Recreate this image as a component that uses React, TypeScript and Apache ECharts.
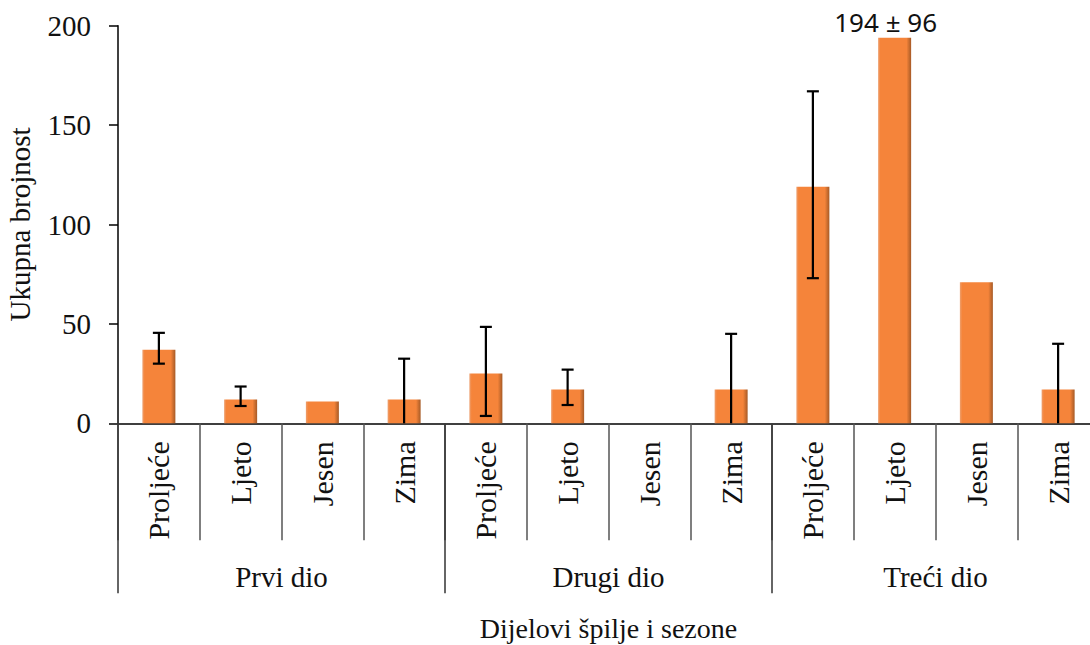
import React, { useEffect, useRef } from "react";
import * as echarts from "echarts";

const seasons = [
  "Proljeće", "Ljeto", "Jesen", "Zima",
  "Proljeće", "Ljeto", "Jesen", "Zima",
  "Proljeće", "Ljeto", "Jesen", "Zima",
];
const parts = ["Prvi dio", "Drugi dio", "Treći dio"];
const values = [37, 12, 11, 12, 25, 17, 0, 17, 119, 194, 71, 17];
const errHigh: (number | null)[] = [45.5, 18.5, null, 32.5, 48.5, 27, null, 45, 167, null, null, 40];
const errLow: (number | null)[] = [30, 8.7, null, 0, 3.7, 9.2, null, 0, 73, null, null, 0];
const peakLabel = "194 ± 96";
const yTicks = { min: 0, max: 200, interval: 50 };

const SERIF = "'Liberation Serif', 'DejaVu Serif', serif";

export default function App() {
  const ref = useRef<HTMLDivElement>(null);
  useEffect(() => {
    if (!ref.current) return;
    const chart = echarts.init(ref.current, null, { renderer: "svg" });
    const errData = values.map((_, i) => [i, errLow[i], errHigh[i]]);
    chart.setOption({
      animation: false,
      backgroundColor: "#ffffff",
      grid: {
        left: 118,
        right: -9,
        top: 25.7,
        bottom: 221.7,
        containLabel: false,
        outerBoundsMode: "none",
      },
      xAxis: [
        {
          type: "category",
          data: seasons,
          position: "bottom",
          axisLine: { show: true, lineStyle: { color: "#000", width: 1.5 } },
          axisTick: { show: true, length: 117, lineStyle: { color: "#555", width: 1.5 } },
          axisLabel: {
            rotate: 90,
            margin: 18,
            fontFamily: SERIF,
            fontSize: 30,
            color: "#111",
            interval: 0,
          },
        },
        {
          type: "category",
          data: parts,
          position: "bottom",
          axisLine: { show: false },
          axisTick: { show: true, length: 170, lineStyle: { color: "#333", width: 1.5 } },
          axisLabel: {
            margin: 139,
            fontFamily: SERIF,
            fontSize: 29,
            color: "#111",
            interval: 0,
          },
          name: "Dijelovi špilje i sezone",
          nameLocation: "middle",
          nameGap: 190,
          nameTextStyle: { fontFamily: SERIF, fontSize: 28, color: "#111", lineHeight: 30 },
        },
      ],
      yAxis: {
        type: "value",
        min: yTicks.min,
        max: yTicks.max,
        interval: yTicks.interval,
        splitLine: { show: false },
        axisLine: { show: true, lineStyle: { color: "#000", width: 1.5 } },
        axisTick: { show: true, inside: false, length: 9, lineStyle: { color: "#000", width: 1.5 } },
        axisLabel: { fontFamily: SERIF, fontSize: 29, color: "#111", margin: 27 },
        name: "Ukupna brojnost",
        nameLocation: "middle",
        nameGap: 84,
        nameTextStyle: { fontFamily: SERIF, fontSize: 29, color: "#111" },
      },
      series: [
        {
          type: "bar",
          data: values.map((v, i) =>
            i === 9
              ? {
                  value: v,
                  label: {
                    show: true,
                    position: "top",
                    formatter: peakLabel,
                    fontFamily: "'Noto Sans', 'Open Sans', sans-serif",
                    fontSize: 26,
                    color: "#111",
                    distance: 3,
                    offset: [-9, 0],
                  },
                }
              : v
          ),
          xAxisIndex: 0,
          barWidth: 33,
          itemStyle: {
            color: new echarts.graphic.LinearGradient(0, 0, 1, 0, [
              { offset: 0, color: "#EDA070" },
              { offset: 0.07, color: "#F5843A" },
              { offset: 0.86, color: "#F5843A" },
              { offset: 1, color: "#A65A26" },
            ]),
          },
        },
        {
          type: "custom",
          xAxisIndex: 0,
          data: errData,
          z: 10,
          renderItem: (params: any, api: any) => {
            const lo = api.value(1);
            const hi = api.value(2);
            if (hi === null || isNaN(hi) || lo === null || isNaN(lo)) return null;
            const top = api.coord([api.value(0), hi]);
            const bot = api.coord([api.value(0), lo]);
            const x = top[0];
            const cap = 6;
            const style = { stroke: "#000", lineWidth: 2.2 };
            const children: any[] = [
              { type: "line", shape: { x1: x, y1: top[1], x2: x, y2: bot[1] }, style },
              { type: "line", shape: { x1: x - cap, y1: top[1], x2: x + cap, y2: top[1] }, style },
            ];
            if (lo > 0) {
              children.push({ type: "line", shape: { x1: x - cap, y1: bot[1], x2: x + cap, y2: bot[1] }, style });
            }
            return { type: "group", children };
          },
        },
      ],
    });
    return () => chart.dispose();
  }, []);
  return (
    <div
      ref={ref}
      style={{ position: "absolute", left: 0, top: 0, width: 1090, height: 645 }}
    />
  );
}
